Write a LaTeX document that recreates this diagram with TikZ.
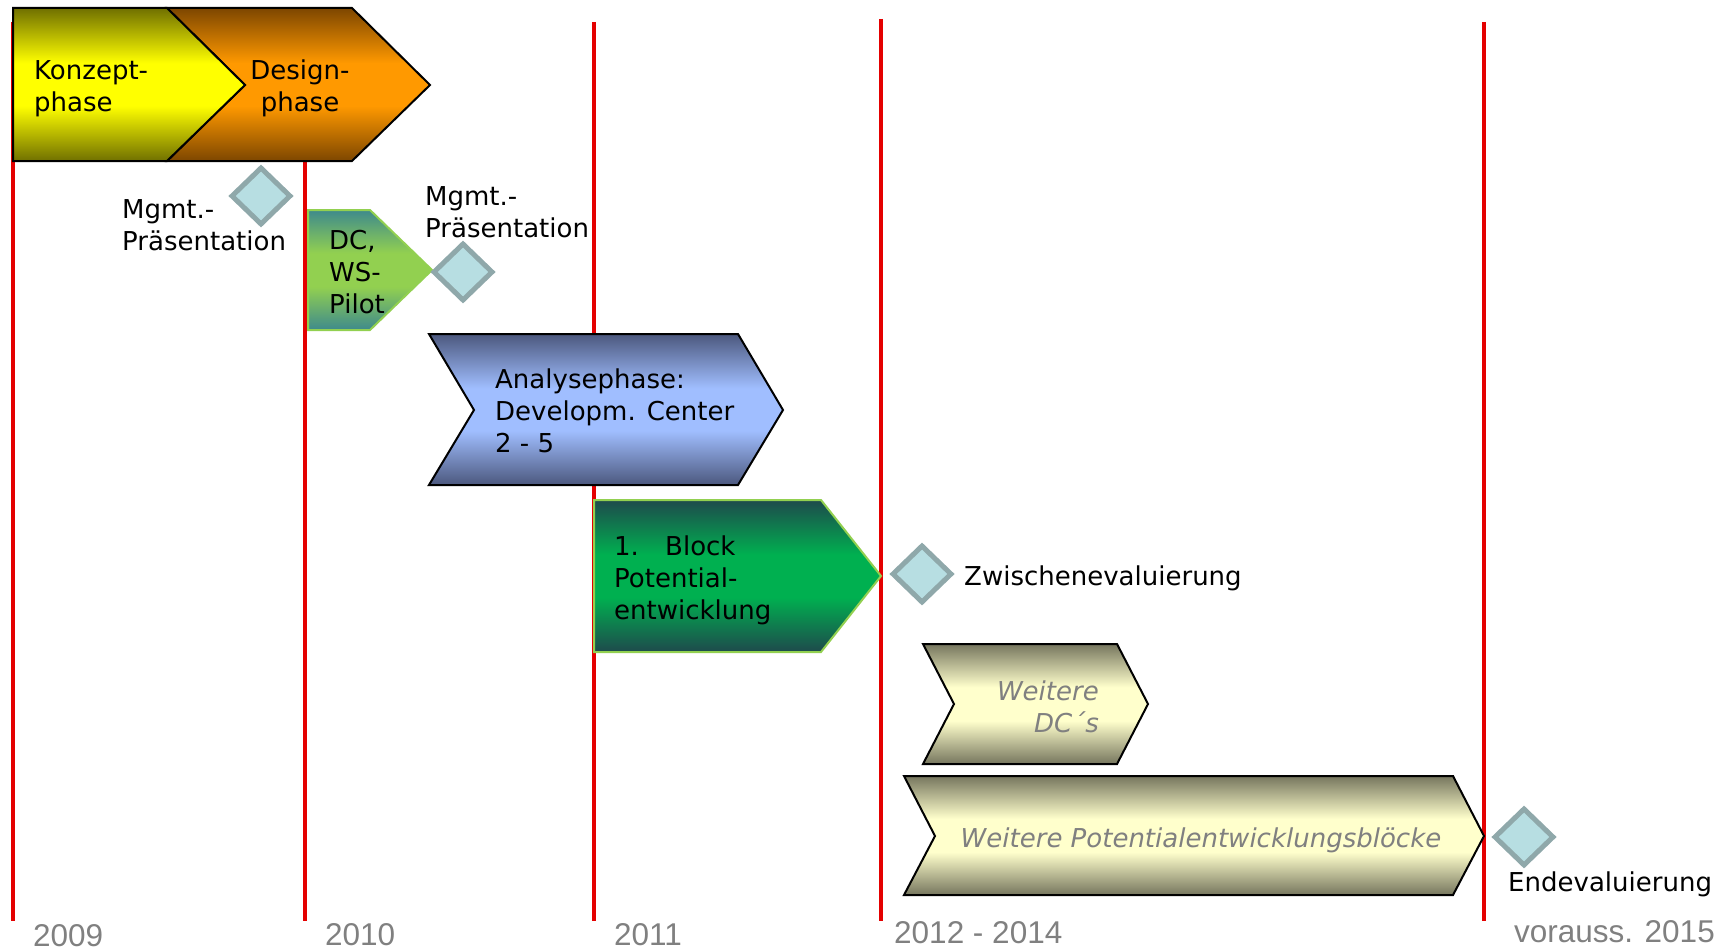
\documentclass[tikz,border=0pt]{standalone}
\usepackage{fontspec}
\setmainfont{DejaVu Sans}
\newfontfamily\yearfont{Liberation Sans}
\usepackage{tikz}
\usetikzlibrary{shapes.geometric}

\definecolor{timered}{RGB}{228,0,0}
\definecolor{konzeptdark}{RGB}{112,112,0}
\definecolor{konzeptlight}{RGB}{255,255,0}
\definecolor{designdark}{RGB}{125,70,0}
\definecolor{designlight}{RGB}{255,153,0}
\definecolor{pilotdark}{RGB}{62,138,140}
\definecolor{pilotlight}{RGB}{146,208,80}
\definecolor{analysedark}{RGB}{76,88,126}
\definecolor{analyselight}{RGB}{160,190,255}
\definecolor{blockdark}{RGB}{30,74,76}
\definecolor{blocklight}{RGB}{0,176,80}
\definecolor{weiterdark}{RGB}{118,118,94}
\definecolor{weiterlight}{RGB}{255,255,204}
\definecolor{msfill}{RGB}{183,222,226}
\definecolor{msborder}{RGB}{143,168,170}
\definecolor{labelgray}{RGB}{128,128,128}

% dunkel - hell - dunkel, mit breitem hellen Band
\newcommand{\phaseshade}[3]{%
  \pgfdeclareverticalshading{#1}{100bp}{color(0bp)=(#2); color(25bp)=(#2);
    color(43bp)=(#3); color(57bp)=(#3); color(75bp)=(#2); color(100bp)=(#2)}}
\phaseshade{konzeptshade}{konzeptdark}{konzeptlight}
\phaseshade{designshade}{designdark}{designlight}
\phaseshade{pilotshade}{pilotdark}{pilotlight}
\phaseshade{analyseshade}{analysedark}{analyselight}
\phaseshade{blockshade}{blockdark}{blocklight}
\phaseshade{weitershade}{weiterdark}{weiterlight}

\begin{document}
\begin{tikzpicture}[x=1pt, y=-1pt,
  every node/.style={font=\fontsize{26}{32}\selectfont, inner sep=0pt},
  redline/.style={line width=4.5pt, timered},
  phasebox/.style={draw=black, line width=2pt},
  greenbox/.style={draw=pilotlight, line width=2pt},
  milestone/.style={diamond, draw=msborder, fill=msfill, line width=5pt, minimum width=60pt, minimum height=58pt},
  lbl/.style={align=left, anchor=base west},
  weitertext/.style={text=labelgray, font=\fontsize{26}{32}\selectfont\itshape},
  yearlbl/.style={font=\yearfont\fontsize{31.5}{34}\selectfont, text=labelgray, text depth=0pt, anchor=base west}]
\useasboundingbox (0,0) rectangle (1729,950);
% Zeitachse
\foreach \xx/\yy in {13/22, 305/22, 594/22, 881/19, 1484/22}
  \draw[redline] (\xx,\yy) -- (\xx,921);
% Phasen
\draw[phasebox, shading=designshade]
  (167,8) -- (352,8) -- (430,85) -- (352,161) -- (167,161) -- (245,85) -- cycle;
\draw[phasebox, shading=konzeptshade]
  (13,8) -- (167,8) -- (245,85) -- (167,161) -- (13,161) -- cycle;
\draw[greenbox, shading=pilotshade]
  (308,210) -- (370,210) -- (432,270) -- (370,330) -- (308,330) -- cycle;
\draw[phasebox, shading=analyseshade]
  (429,334) -- (738,334) -- (783,410) -- (738,485) -- (429,485) -- (474,410) -- cycle;
\draw[greenbox, shading=blockshade]
  (594,500) -- (821,500) -- (881,576) -- (821,652) -- (594,652) -- cycle;
\draw[phasebox, shading=weitershade]
  (923,644) -- (1117,644) -- (1148,704) -- (1117,764) -- (923,764) -- (954,704) -- cycle;
\draw[phasebox, shading=weitershade]
  (904,776) -- (1453,776) -- (1484,836) -- (1453,895) -- (904,895) -- (935,836) -- cycle;
% Meilensteine
\node[milestone] (msA) at (261,196) {};
\node[milestone] (msB) at (463,272) {};
\node[milestone] (msC) at (922,574) {};
\node[milestone] (msD) at (1524,837) {};
% Texte (base = letzte Zeile)
\node[lbl] (konzept) at (34,111) {Konzept-\\phase};
\node[align=center, anchor=base] (design) at (300,111) {Design-\\phase};
\node[lbl] (mgmtA) at (122,250) {Mgmt.-\\Präsentation};
\node[lbl] (pilot) at (329,313) {DC,\\WS-\\Pilot};
\node[lbl] (mgmtB) at (425,237) {Mgmt.-\\Präsentation};
\node[lbl] (analyse) at (495,452) {Analysephase:\\Developm. Center\\2 - 5};
\node[lbl] (block) at (614,619) {\makebox[51pt][l]{1.}Block\\Potential-\\entwicklung};
\node[lbl] (zwischen) at (964,585) {Zwischenevaluierung};
\node[weitertext, align=right, anchor=base east] (dcs) at (1099,732) {Weitere\\DC´s};
\node[weitertext, anchor=base] (bloecke) at (1201,847) {Weitere Potentialentwicklungsblöcke};
\node[lbl] (ende) at (1508,891) {Endevaluierung};
% Jahre
\node[yearlbl] (jahrA) at (33,946) {2009};
\node[yearlbl] (jahrB) at (325,945) {2010};
\node[yearlbl] (jahrC) at (614,945) {2011};
\node[yearlbl] (jahrD) at (894,943) {2012 - 2014};
\node[yearlbl, anchor=base east] (jahrE) at (1715,942) {vorauss. 2015};
\end{tikzpicture}
\end{document}
